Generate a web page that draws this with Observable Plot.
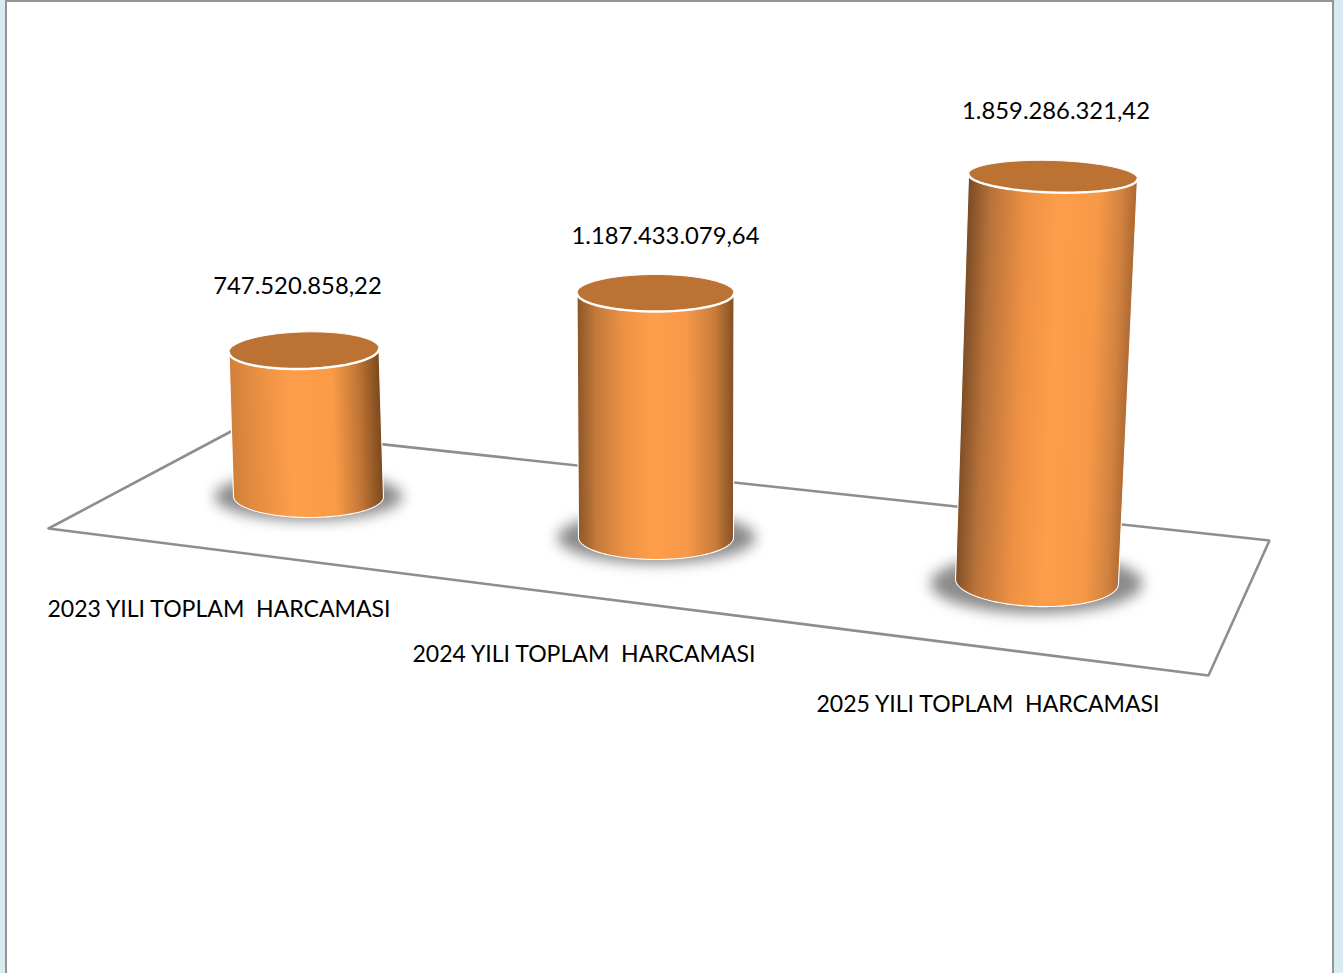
<!DOCTYPE html>
<html lang="tr">
<head>
<meta charset="utf-8">
<title>Toplam Harcama</title>
<script src="https://cdn.jsdelivr.net/npm/d3@7"></script>
<script src="https://cdn.jsdelivr.net/npm/@observablehq/plot@0.6"></script>
<style>
  html, body { margin: 0; padding: 0; width: 1343px; height: 973px; overflow: hidden; background: #d8ebf2; }
  #panel { position: absolute; left: 5px; top: 0; width: 1325px; height: 990px; background: #fff; border: 2px solid #949494; }
  #chart { position: absolute; left: 0; top: 0; }
  #chart svg { display: block; background: none; }
</style>
</head>
<body>
<div id="panel"></div>
<div id="chart"></div>
<script>
// ---- data ----
const categories = ["2023 YILI TOPLAM  HARCAMASI", "2024 YILI TOPLAM  HARCAMASI", "2025 YILI TOPLAM  HARCAMASI"];
const values = [747520858.22, 1187433079.64, 1859286321.42];

// ---- layout of the 3-D scene (screen units for the x scale, and a y scale in TL) ----
const W = 1343, H = 973;
const pxPerTL = 0.2 / 1e6;             // vertical scale of the value axis
const yZeroPx = 600;                   // pixel where the y scale reads 0
const toY = p => (yZeroPx - p) / pxPerTL;   // screen offset expressed in y-scale units

const scene = [
  {base: {cx: 308,    cy: 496, rx: 75,   ry: 21, tilt: 0.2}, top: {cx: 303.5,  rx: 75,   ry: 18.5, tilt: -1.5}, depth: 0.977,
   shadow: {cx: 308,  cy: 496, rx: 94,  ry: 24},
   label: {x: 297, y: 286}, cat: {x: 218.5, y: 609},
   stops: [[0, "#d07f3a"], [.12, "#e08a40"], [.4, "#ff9e4a"], [.68, "#fb9b48"], [.85, "#c27636"], [1, "#7a491d"]]},
  {base: {cx: 655.5,  cy: 537, rx: 77.5, ry: 22, tilt: 0},   top: {cx: 655,    rx: 78.5, ry: 18.5, tilt: 0},    depth: 1.0295,
   shadow: {cx: 656,  cy: 537, rx: 99,  ry: 26},
   label: {x: 665, y: 236}, cat: {x: 583.5, y: 654},
   stops: [[0, "#8c5628"], [.12, "#c47a3a"], [.3, "#ee9244"], [.48, "#ff9e4a"], [.7, "#f7984a"], [.88, "#c87c3a"], [1, "#845024"]]},
  {base: {cx: 1036.5, cy: 581, rx: 81.5, ry: 25, tilt: 1.8}, top: {cx: 1052.5, rx: 84.5, ry: 16,   tilt: 1.7},  depth: 1.0891,
   shadow: {cx: 1036, cy: 583, rx: 106, ry: 30},
   label: {x: 1055.5, y: 111}, cat: {x: 987.5, y: 704},
   stops: [[0, "#7d4d26"], [.13, "#b8723a"], [.35, "#ee9144"], [.55, "#ff9e4a"], [.78, "#f79847"], [.92, "#d28340"], [1, "#b06a32"]]}
];
const floorPx = [[48, 528], [1208, 675], [1269, 540], [236, 428], [48, 528]];

// top of each cylinder comes from the value
const cylinders = categories.map((category, i) => {
  const s = scene[i];
  const topCy = s.base.cy - values[i] * s.depth * pxPerTL;
  return {category, value: values[i], ...s, top: {...s.top, cy: topCy}};
});

const ellipsePoint = (e, t) => {
  const a = (e.tilt || 0) * Math.PI / 180;
  return {
    x: e.cx + e.rx * Math.cos(t) * Math.cos(a) - e.ry * Math.sin(t) * Math.sin(a),
    y: toY(e.cy + e.rx * Math.cos(t) * Math.sin(a) + e.ry * Math.sin(t) * Math.cos(a))
  };
};
const arc = (e, t0, t1, n = 72) => d3.range(n + 1).map(k => ellipsePoint(e, t0 + (t1 - t0) * k / n));
const ring = e => arc(e, 0, 2 * Math.PI, 120);
const PI = Math.PI;

const bodyMark = (c, i) => Plot.line(
  [...arc(c.top, PI, 2 * PI), ...arc(c.base, 0, PI), ellipsePoint(c.top, PI)],
  {x: "x", y: "y", fill: `url(#cyl${i})`, stroke: "#fff", strokeWidth: 1.1, curve: "linear"}
);

const fmt = d3.formatLocale({decimal: ",", thousands: ".", grouping: [3], currency: ["", ""]}).format(",.2f");
const font = {fontFamily: "Lato, 'Open Sans', sans-serif", fill: "#000", textAnchor: "middle", lineAnchor: "middle"};

const chart = Plot.plot({
  width: W, height: H, margin: 0,
  style: {background: "none"},
  x: {domain: [0, W], range: [0, W], axis: null},
  y: {domain: [toY(H), toY(0)], range: [H, 0], axis: null},
  marks: [
    Plot.line(floorPx.map(([x, p]) => ({x, y: toY(p)})), {x: "x", y: "y", stroke: "#8e8e8e", strokeWidth: 2.6, curve: "linear", strokeLinejoin: "miter"}),
    ...cylinders.map(c => Plot.line(ring(c.shadow), {x: "x", y: "y", fill: "#8a8a8a", stroke: "none", imageFilter: "blur(7px)", curve: "linear"})),
    ...cylinders.map(bodyMark),
    ...cylinders.map(c => Plot.line(ring(c.top), {x: "x", y: "y", fill: "#bc7233", stroke: "#fff", strokeWidth: 1, curve: "linear"})),
    ...cylinders.map(c => Plot.line(arc(c.top, 0.02, PI - 0.02), {x: "x", y: "y", stroke: "#fff", strokeWidth: 2.4, curve: "linear"})),
    Plot.text(cylinders, {x: d => d.label.x, y: d => toY(d.label.y), text: d => fmt(d.value), fontSize: 23.8, ...font}),
    Plot.text(cylinders, {x: d => d.cat.x, y: d => toY(d.cat.y), text: "category", fontSize: 23.05, ...font})
  ]
});

// gradients that run across each (slightly leaning) cylinder
const defs = d3.select(chart).insert("defs", ":first-child");
cylinders.forEach((c, i) => {
  const topY = c.top.cy, baseY = c.base.cy;
  const dx = c.base.cx - c.top.cx, dy = baseY - topY, len = Math.hypot(dx, dy);
  const px = dy / len, py = -dx / len;
  const mx = (c.base.cx + c.top.cx) / 2, my = (baseY + topY) / 2, r = (c.base.rx + c.top.rx) / 2;
  const g = defs.append("linearGradient").attr("id", `cyl${i}`).attr("gradientUnits", "userSpaceOnUse")
    .attr("x1", mx - px * r).attr("y1", my - py * r).attr("x2", mx + px * r).attr("y2", my + py * r);
  c.stops.forEach(([o, col]) => g.append("stop").attr("offset", o).attr("stop-color", col));
});
document.getElementById("chart").append(chart);
</script>
</body>
</html>
